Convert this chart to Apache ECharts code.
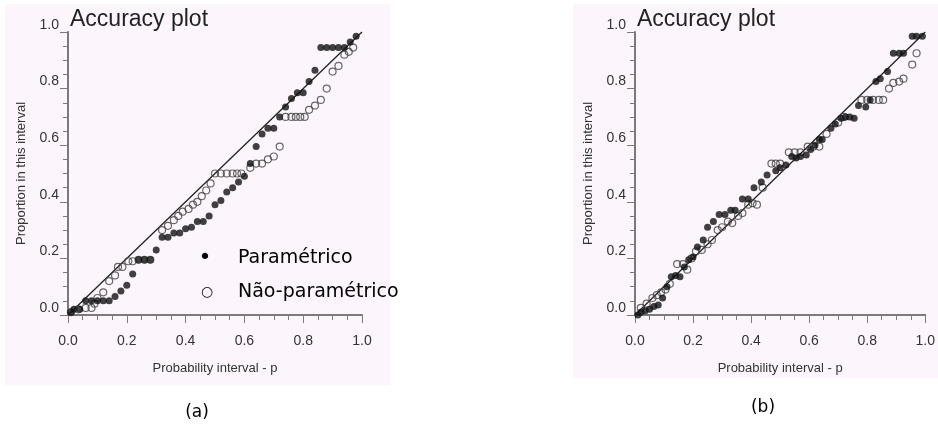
<!DOCTYPE html>
<html>
<head>
<meta charset="utf-8">
<script src="https://cdn.jsdelivr.net/npm/echarts@6/dist/echarts.min.js"></script>
<style>
html,body{margin:0;padding:0;background:#ffffff;}
#chart{width:938px;height:434px;}
</style>
</head>
<body>
<div id="chart"></div>
<script>
// ---------- DATA ----------
const titleText = "Accuracy plot";
const xAxisName = "Probability interval - p";
const yAxisName = "Proportion in this interval";
const legendNames = ["Paramétrico", "Não-paramétrico"];
const panelLabels = ["(a)", "(b)"];
const diagonal = [[0, 0], [1, 1]];

// Panel (a)
const aParamX = [0.01,0.02,0.04,0.06,0.08,0.10,0.12,0.14,0.16,0.18,0.20,0.22,0.24,0.26,0.28,0.30,0.32,0.34,0.36,0.38,0.40,0.42,0.44,0.46,0.48,0.50,0.52,0.54,0.56,0.58,0.60,0.62,0.64,0.66,0.68,0.70,0.72,0.74,0.76,0.78,0.80,0.82,0.84,0.86,0.88,0.90,0.92,0.94,0.96,0.98];
const aParamY = [0.01,0.02,0.02,0.05,0.05,0.05,0.05,0.05,0.065,0.085,0.105,0.145,0.195,0.195,0.195,0.23,0.275,0.275,0.29,0.29,0.305,0.31,0.33,0.33,0.35,0.39,0.405,0.435,0.45,0.47,0.49,0.535,0.595,0.64,0.66,0.66,0.70,0.735,0.765,0.785,0.785,0.825,0.865,0.945,0.945,0.945,0.945,0.945,0.965,0.985];
const aNonParX = [0.01,0.035,0.06,0.08,0.09,0.10,0.12,0.14,0.16,0.17,0.185,0.205,0.22,0.24,0.26,0.28,0.32,0.34,0.36,0.375,0.39,0.41,0.425,0.44,0.455,0.47,0.485,0.50,0.52,0.54,0.56,0.575,0.59,0.62,0.64,0.66,0.68,0.70,0.72,0.74,0.76,0.775,0.79,0.805,0.82,0.84,0.86,0.88,0.90,0.92,0.94,0.955,0.97];
const aNonParY = [0.01,0.02,0.025,0.025,0.04,0.06,0.08,0.12,0.14,0.17,0.17,0.19,0.19,0.195,0.195,0.195,0.30,0.315,0.335,0.35,0.365,0.375,0.39,0.40,0.42,0.44,0.465,0.50,0.50,0.50,0.50,0.50,0.50,0.52,0.535,0.535,0.55,0.56,0.595,0.70,0.70,0.70,0.70,0.70,0.725,0.74,0.76,0.80,0.86,0.88,0.92,0.93,0.945];

// Panel (b)
const bParamX = [0.01,0.02,0.035,0.05,0.065,0.08,0.095,0.11,0.125,0.14,0.155,0.17,0.185,0.20,0.215,0.235,0.25,0.27,0.29,0.31,0.33,0.345,0.37,0.39,0.41,0.435,0.455,0.485,0.50,0.52,0.54,0.555,0.57,0.59,0.605,0.62,0.635,0.645,0.675,0.69,0.71,0.725,0.74,0.755,0.77,0.795,0.81,0.83,0.845,0.87,0.89,0.91,0.925,0.955,0.97,0.99];
const bParamY = [0.00,0.01,0.015,0.02,0.03,0.035,0.06,0.10,0.135,0.14,0.135,0.17,0.195,0.205,0.24,0.265,0.31,0.33,0.355,0.355,0.37,0.37,0.41,0.41,0.45,0.47,0.495,0.51,0.52,0.53,0.56,0.555,0.56,0.565,0.585,0.60,0.62,0.62,0.66,0.675,0.695,0.70,0.70,0.695,0.74,0.735,0.76,0.825,0.835,0.86,0.925,0.925,0.925,0.985,0.985,0.985];
const bNonParX = [0.02,0.04,0.06,0.075,0.09,0.105,0.12,0.145,0.165,0.18,0.195,0.21,0.23,0.25,0.265,0.285,0.30,0.32,0.335,0.355,0.37,0.39,0.405,0.42,0.44,0.47,0.485,0.50,0.53,0.55,0.57,0.595,0.615,0.635,0.66,0.70,0.72,0.78,0.80,0.82,0.84,0.855,0.875,0.89,0.91,0.925,0.955,0.97];
const bNonParY = [0.025,0.04,0.06,0.07,0.08,0.09,0.11,0.18,0.18,0.16,0.20,0.225,0.23,0.25,0.265,0.30,0.31,0.33,0.325,0.35,0.36,0.39,0.395,0.39,0.45,0.535,0.535,0.535,0.575,0.575,0.575,0.595,0.595,0.595,0.64,0.68,0.70,0.76,0.76,0.76,0.76,0.76,0.80,0.82,0.825,0.835,0.885,0.925];

// ---------- CHART ----------
const zip = (xs, ys) => xs.map((x, i) => [x, ys[i]]);
const chart = echarts.init(document.getElementById('chart'), null, {renderer: 'canvas'});

const axisColor = '#7a7a7a';
const labelColor = '#333';
const fontFam = '"Liberation Sans Narrow", "Liberation Sans", Arial, sans-serif';

function mkX(gi) {
  return {
    type: 'value', gridIndex: gi, min: 0, max: 1, interval: 0.2,
    name: xAxisName, nameLocation: 'middle', nameGap: 47,
    nameTextStyle: {fontFamily: fontFam, fontSize: 13, color: labelColor},
    axisLine: {show: true, onZero: false, lineStyle: {color: axisColor, width: 2}},
    axisTick: {show: true, inside: false, length: 8, lineStyle: {color: axisColor, width: 1}},
    minorTick: {show: true, splitNumber: 4, length: 5, lineStyle: {color: axisColor, width: 1}},
    axisLabel: {fontFamily: fontFam, fontSize: 14, color: labelColor, margin: 19,
      formatter: v => v.toFixed(1)},
    splitLine: {show: false}
  };
}
function mkY(gi) {
  return {
    type: 'value', gridIndex: gi, min: 0, max: 1, interval: 0.2,
    name: yAxisName, nameLocation: 'middle', nameGap: 40, nameRotate: 90,
    nameTextStyle: {fontFamily: fontFam, fontSize: 13, color: labelColor},
    axisLine: {show: true, onZero: false, lineStyle: {color: axisColor, width: 2}},
    axisTick: {show: true, inside: false, length: 8, lineStyle: {color: axisColor, width: 1}},
    minorTick: {show: true, splitNumber: 4, length: 5, lineStyle: {color: axisColor, width: 1}},
    axisLabel: {fontFamily: fontFam, fontSize: 14, color: labelColor, margin: 9,
      verticalAlign: 'bottom', formatter: v => v.toFixed(1)},
    splitLine: {show: false}
  };
}

function scatter(gi, data, filled) {
  return {
    type: 'scatter', xAxisIndex: gi, yAxisIndex: gi, data: data,
    symbol: 'circle', symbolSize: 7, silent: true,
    itemStyle: filled ? {color: '#111', borderColor: '#111', borderWidth: 0}
                      : {color: 'rgba(0,0,0,0)', borderColor: '#444', borderWidth: 1.2},
    z: filled ? 4 : 3
  };
}
function diag(gi) {
  return {
    type: 'line', xAxisIndex: gi, yAxisIndex: gi, data: diagonal,
    symbol: 'none', silent: true, lineStyle: {color: '#222', width: 1.3}, z: 2
  };
}

const titleFont = '23px "Liberation Sans", Arial, sans-serif';
const option = {
  animation: false,
  backgroundColor: '#ffffff',
  grid: [
    {left: 68, width: 294, top: 32, height: 283},
    {left: 635, width: 292, top: 32, height: 283}
  ],
  xAxis: [mkX(0), mkX(1)],
  yAxis: [mkY(0), mkY(1)],
  series: [
    diag(0),
    scatter(0, zip(aNonParX, aNonParY), false),
    scatter(0, zip(aParamX, aParamY), true),
    diag(1),
    scatter(1, zip(bNonParX, bNonParY), false),
    scatter(1, zip(bParamX, bParamY), true)
  ],
  graphic: [
    {type: 'rect', z: -10, silent: true, shape: {x: 5, y: 4, width: 385, height: 381}, style: {fill: '#fcf6fc'}},
    {type: 'rect', z: -10, silent: true, shape: {x: 573, y: 4, width: 365, height: 374}, style: {fill: '#fcf6fc'}},
    {type: 'text', left: 70, top: 8, style: {text: titleText, font: titleFont, fill: '#222'}},
    {type: 'text', left: 637, top: 8, style: {text: titleText, font: titleFont, fill: '#222'}},
    {type: 'text', x: 205, y: 258, style: {text: '•', font: '22px "DejaVu Sans", sans-serif', fill: '#000', align: 'center', verticalAlign: 'middle'}},
    {type: 'text', x: 207, y: 292, style: {text: '○', font: '14px "DejaVu Sans", sans-serif', fill: '#000', align: 'center', verticalAlign: 'middle'}},
    {type: 'text', x: 238, y: 258, style: {text: legendNames[0], font: '19px "DejaVu Sans", sans-serif', fill: '#000', verticalAlign: 'middle'}},
    {type: 'text', x: 238, y: 292, style: {text: legendNames[1], font: '19px "DejaVu Sans", sans-serif', fill: '#000', verticalAlign: 'middle'}},
    {type: 'text', x: 197, y: 413, style: {text: panelLabels[0], font: '17px "DejaVu Sans", sans-serif', fill: '#000', align: 'center', verticalAlign: 'middle'}},
    {type: 'text', x: 763, y: 408, style: {text: panelLabels[1], font: '17px "DejaVu Sans", sans-serif', fill: '#000', align: 'center', verticalAlign: 'middle'}}
  ]
};
chart.setOption(option);
</script>
</body>
</html>
